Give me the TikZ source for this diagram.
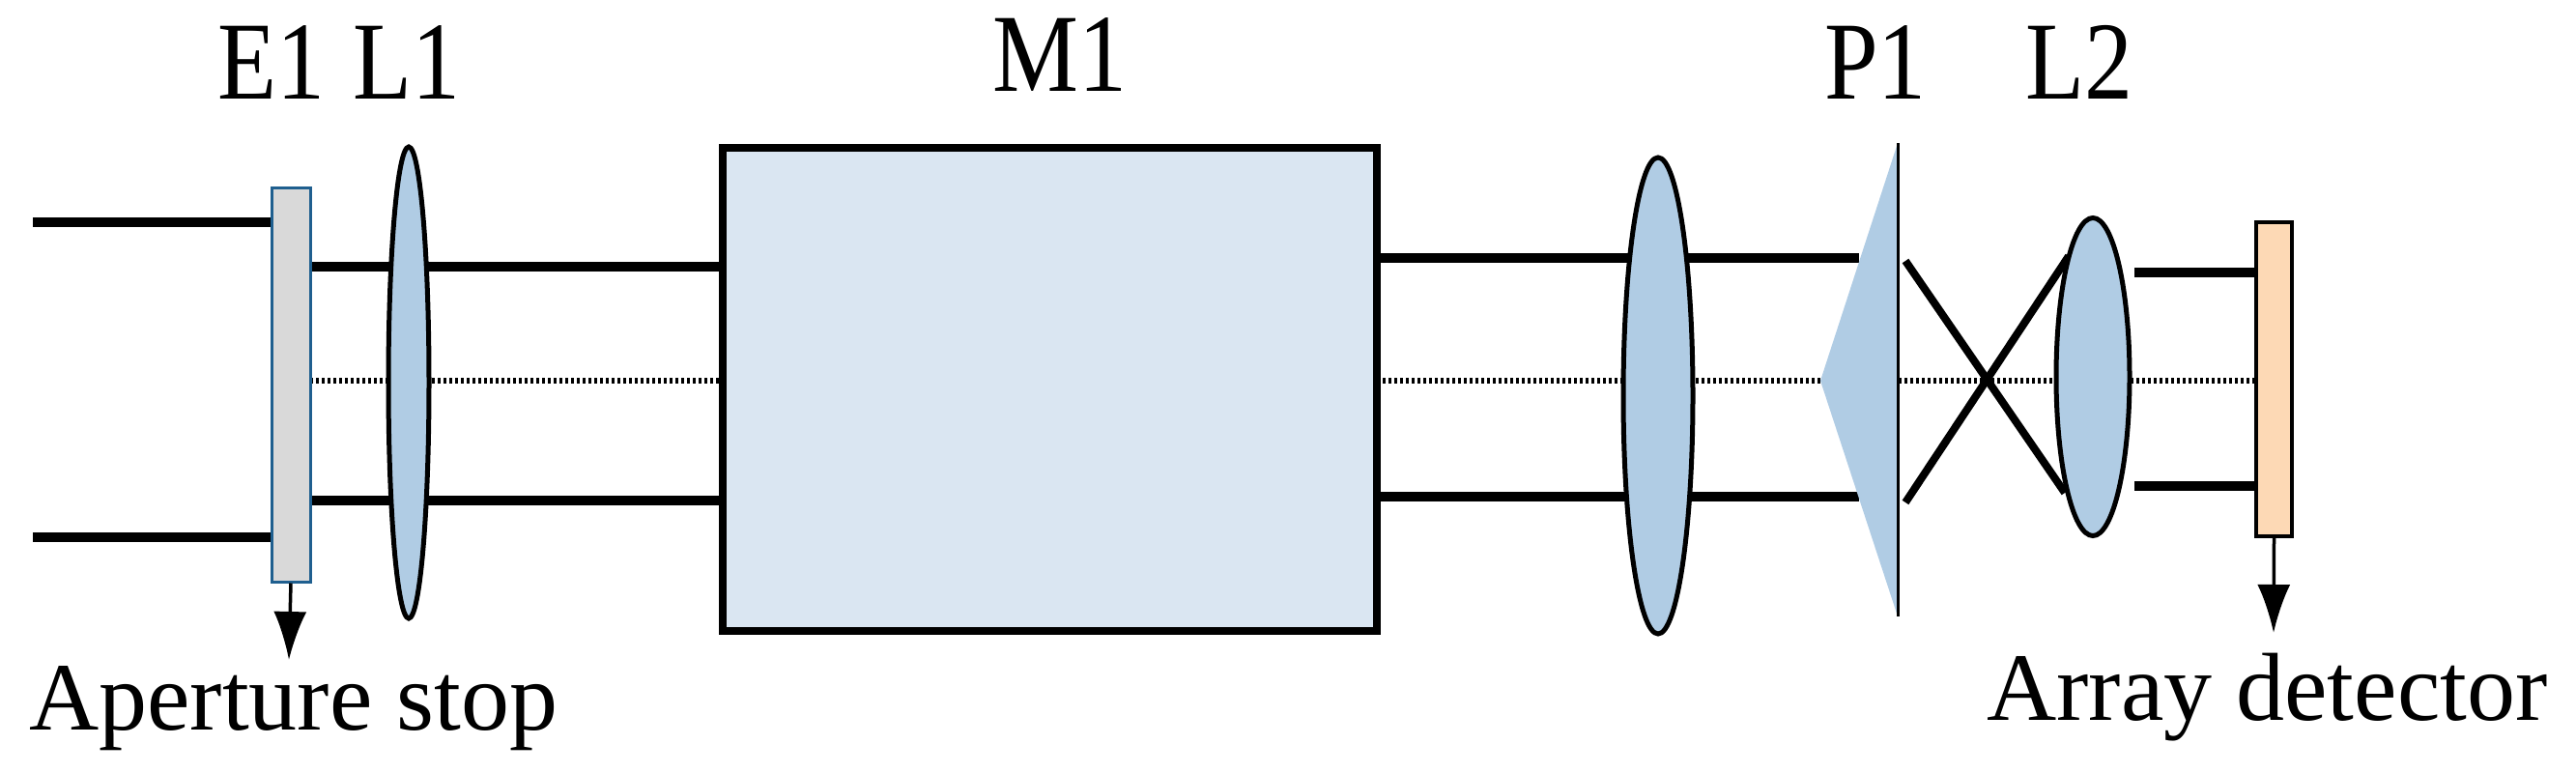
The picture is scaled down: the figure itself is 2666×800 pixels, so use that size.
\documentclass[tikz,border=0pt]{standalone}
\usepackage{fontspec}
\setmainfont{Liberation Serif}
\usetikzlibrary{arrows.meta,shapes.geometric}
\begin{document}
\begin{tikzpicture}[x=1pt,y=-1pt,
  beam/.style={line width=10pt},
  axisline/.style={line width=6pt,dash pattern=on 3pt off 3pt},
  lens/.style={draw,line width=5pt,fill=lensblue},
  lbl/.style={font=\fontsize{100}{100}\selectfont,anchor=base,inner sep=0pt,yscale=1.15},
  captxt/.style={font=\fontsize{100}{100}\selectfont,anchor=base west,inner sep=0pt},
  arr/.style={line width=3.5pt,-{Latex[length=50pt,width=34pt]}}]
\definecolor{lensblue}{HTML}{B0CCE4}
\definecolor{boxblue}{HTML}{DAE6F2}
\definecolor{stopgray}{HTML}{D9D9D9}
\definecolor{stopedge}{HTML}{1F5F8F}
\definecolor{detorange}{HTML}{FDD9B5}
\useasboundingbox (0,0) rectangle (2666,800);
% axis
\coordinate (a1) at (321,394); \coordinate (a2) at (748,394);
\coordinate (a3) at (1425,394); \coordinate (a4) at (2335,394);
\draw[axisline] (a1) -- (a2); \draw[axisline] (a3) -- (a4);
% incoming beams
\coordinate (i1) at (34,230); \coordinate (i2) at (34,556);
\coordinate (e1a) at (281,230); \coordinate (e1b) at (281,556);
\draw[beam] (i1) -- (e1a); \draw[beam] (i2) -- (e1b);
\coordinate (b1) at (321,276); \coordinate (b2) at (748,276);
\coordinate (b3) at (321,518); \coordinate (b4) at (748,518);
\draw[beam] (b1) -- (b2); \draw[beam] (b3) -- (b4);
% E1
\node[draw=stopedge,line width=3pt,fill=stopgray,minimum width=40pt,minimum height=408pt,inner sep=0pt] (E1) at (301,398) {};
\coordinate (e1arr) at (299,683);
\draw[arr] (E1.south) -- (e1arr);
% L1
\node[lens,ellipse,minimum width=42pt,minimum height=488pt,inner sep=0pt] (L1) at (423,396) {};
% M1
\node[draw,line width=8pt,fill=boxblue,minimum width=677pt,minimum height=500pt,inner sep=0pt] (M1) at (1086.5,403) {};
% beams after M1
\coordinate (c1) at (1425,267); \coordinate (c2) at (1924,267);
\coordinate (c3) at (1425,514); \coordinate (c4) at (1924,514);
\draw[beam] (c1) -- (c2); \draw[beam] (c3) -- (c4);
% big lens
\node[lens,ellipse,minimum width=72pt,minimum height=493pt,inner sep=0pt] (L3) at (1716,409.5) {};
% P1
\coordinate (p1t) at (1964,148); \coordinate (p1b) at (1964,638); \coordinate (p1a) at (1884,394);
\fill[lensblue] (p1t) -- (p1a) -- (p1b) -- cycle;
\draw[line width=3pt] (p1t) -- (p1b);
% crossing rays
\coordinate (x1) at (1972,270); \coordinate (x2) at (2137,510);
\coordinate (x3) at (1972,520); \coordinate (x4) at (2141,265);
\draw[line width=8pt] (x1) -- (x2); \draw[line width=8pt] (x3) -- (x4);
% L2
\node[lens,ellipse,minimum width=76pt,minimum height=329pt,inner sep=0pt] (L2) at (2166,390) {};
% beams to detector
\coordinate (d1) at (2209,282); \coordinate (d2) at (2335,282);
\coordinate (d3) at (2209,503); \coordinate (d4) at (2335,503);
\draw[beam] (d1) -- (d2); \draw[beam] (d3) -- (d4);
% detector
\node[draw,line width=4pt,fill=detorange,minimum width=37pt,minimum height=325pt,inner sep=0pt] (D) at (2353.5,392.5) {};
\coordinate (darr) at (2353,655);
\draw[arr] (D.south) -- (darr);
% labels
\node[lbl] (tE1) at (281,102) {E1};
\node[lbl] (tL1) at (421,102) {L1};
\node[lbl] (tM1) at (1097,94) {M1};
\node[lbl] (tP1) at (1941,102) {P1};
\node[lbl] (tL2) at (2152,102) {L2};
\node[captxt] (ta) at (30,755) {Aperture stop};
\node[captxt] (td) at (2056,745) {Array detector};
\end{tikzpicture}
\end{document}
